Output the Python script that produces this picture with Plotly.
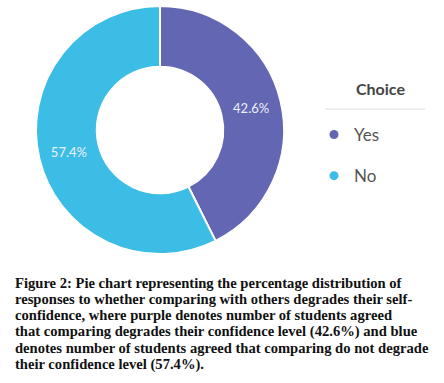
import plotly.graph_objects as go

labels = ["Yes", "No"]
values = [42.6, 57.4]
colors = ["#6366b2", "#3bbde6"]
legend_title = "Choice"
caption_lines = [
    "Figure 2: Pie chart representing the percentage distribution of",
    "responses to whether comparing with others degrades their self-",
    "confidence, where purple denotes number of students agreed",
    "that comparing degrades their confidence level (42.6%) and blue",
    "denotes number of students agreed that comparing do not degrade",
    "their confidence level (57.4%).",
]

W, H = 444, 383

fig = go.Figure()
fig.add_trace(go.Pie(
    labels=labels, values=values, hole=0.51, sort=False, direction="clockwise",
    marker=dict(colors=colors, line=dict(color="white", width=2)),
    texttemplate="%{value:.1f}%", textinfo="text",
    insidetextorientation="horizontal",
    textfont=dict(family="Lato", size=13, color="#eef0fa"),
    domain=dict(x=[36 / W, 284 / W], y=[1 - 254 / H, 1 - 6 / H]),
    showlegend=False, hoverinfo="label+percent",
))
for i, (lab, col) in enumerate(zip(labels, colors)):
    fig.add_trace(go.Scatter(
        x=[None], y=[None], mode="markers", name=lab, legendgroup=lab,
        marker=dict(symbol="circle", size=9, color=col),
    ))

fig.add_annotation(x=380 / W, y=1 - 88 / H, xref="paper", yref="paper",
                   text=legend_title, showarrow=False, xanchor="center", yanchor="middle",
                   font=dict(family="Lato", size=16, color="#444444", weight="bold"))
fig.add_shape(type="line", xref="paper", yref="paper",
              x0=325 / W, x1=425 / W, y0=1 - 109 / H, y1=1 - 109 / H,
              line=dict(color="#e0e0e0", width=1))

y0, dy = 283, 16.2
for i, line in enumerate(caption_lines):
    fig.add_annotation(x=13 / W, y=1 - (y0 + i * dy) / H, xref="paper", yref="paper",
                       text=line, showarrow=False, xanchor="left", yanchor="middle",
                       font=dict(family="Liberation Serif", size=14.6, color="#111111", weight="bold"))

fig.update_layout(
    width=W, height=H, margin=dict(l=0, r=0, t=0, b=0),
    paper_bgcolor="white", plot_bgcolor="white",
    xaxis=dict(visible=False), yaxis=dict(visible=False),
    legend=dict(x=314 / W, y=1 - 117 / H, xanchor="left", yanchor="top",
                font=dict(family="Lato", size=17, color="#555555"),
                traceorder="grouped", tracegroupgap=16, itemwidth=30,
                bgcolor="rgba(0,0,0,0)"),
)
fig.write_html("out.html", config={"displayModeBar": False},
               post_script="document.body.style.margin='0';")
